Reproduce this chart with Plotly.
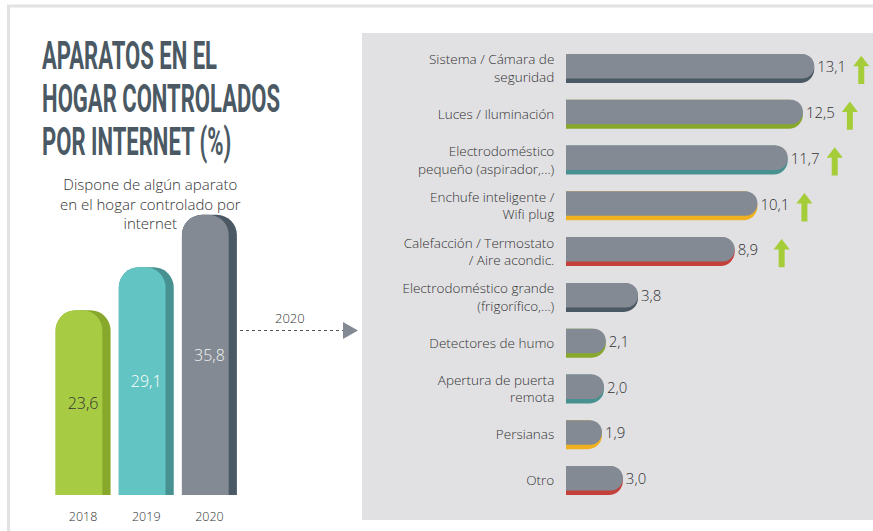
import json
import plotly.graph_objects as go

W, H = 873, 531

# ---------------- data ----------------
years = ["2018", "2019", "2020"]
year_values = [23.6, 29.1, 35.8]
year_light = ["#a7cc44", "#63c5c3", "#838a93"]
year_dark = ["#88a82c", "#479191", "#4a5963"]
year_text_colors = ["#333333", "#ffffff", "#f2f2f2"]

devices = [
    "Sistema / Cámara de<br>seguridad",
    "Luces / Iluminación",
    "Electrodoméstico<br>pequeño (aspirador,...)",
    "Enchufe inteligente /<br>Wifi plug",
    "Calefacción / Termostato<br>/ Aire acondic.",
    "Electrodoméstico grande<br>(frigorífico,...)",
    "Detectores de humo",
    "Apertura de puerta<br>remota",
    "Persianas",
    "Otro",
]
device_values = [13.1, 12.5, 11.7, 10.1, 8.9, 3.8, 2.1, 2.0, 1.9, 3.0]
device_rising = [True, True, True, True, True, False, False, False, False, False]
strip_colors = ["#4a5963", "#88a82c", "#479191", "#f0b020", "#c4403a",
                "#4a5963", "#88a82c", "#479191", "#f0b020", "#c4403a"]

title_lines = ["APARATOS EN EL", "HOGAR CONTROLADOS", "POR INTERNET (%)"]

FONT = "'Open Sans', Lato, sans-serif"
TITLE_FONT = "Roboto, sans-serif"
PX_PER_UNIT = 18.95          # horizontal scale of the right chart
ARROW_GAP = 47 / PX_PER_UNIT  # distance of the trend arrow after the bar end
ARROW_GREEN = "#a5cd39"


def px(x):
    return x / W


def py(y):
    return 1 - y / H


fig = go.Figure()

# ---------------- left chart: yearly bars ----------------
xi = list(range(len(years)))
fig.add_trace(go.Bar(x=xi, y=year_values, width=0.87, offset=-0.435,
                     marker=dict(color=year_dark, cornerradius=20, line=dict(width=0)),
                     xaxis="x", yaxis="y", hoverinfo="skip", showlegend=False))
fig.add_trace(go.Bar(x=xi, y=year_values, width=0.74, offset=-0.435,
                     marker=dict(color=year_light, cornerradius=20, line=dict(width=0)),
                     xaxis="x", yaxis="y", hoverinfo="skip", showlegend=False))
fig.add_trace(go.Bar(x=xi, y=year_values, width=0.87, offset=-0.435,
                     marker=dict(color="rgba(0,0,0,0)", line=dict(width=0)),
                     texttemplate="%{y:.1f}", textposition="inside",
                     insidetextanchor="middle", constraintext="none",
                     textfont=dict(family=FONT, size=16, color=year_text_colors, weight=300),
                     xaxis="x", yaxis="y", hoverinfo="skip", showlegend=False))

# ---------------- right chart: devices ----------------
yi = list(range(len(devices)))
fig.add_trace(go.Bar(x=device_values, y=yi, orientation="h", width=0.633, offset=-0.3165,
                     marker=dict(color=strip_colors, cornerradius=14, line=dict(width=0)),
                     xaxis="x2", yaxis="y2", hoverinfo="skip", showlegend=False))
fig.add_trace(go.Bar(x=device_values, y=yi, orientation="h", width=0.535, offset=-0.3165,
                     marker=dict(color="#838a93", cornerradius=12, line=dict(width=0)),
                     texttemplate="%{x:.1f}", textposition="outside", constraintext="none",
                     cliponaxis=False,
                     textfont=dict(family=FONT, size=15, color="#333333", weight=300),
                     xaxis="x2", yaxis="y2", hoverinfo="skip", showlegend=False))

# trend arrows (shaft + head) next to the rising items
shaft_x, shaft_y, head_x, head_y = [], [], [], []
for v, y, up in zip(device_values, yi, device_rising):
    if up:
        shaft_x += [v + ARROW_GAP, v + ARROW_GAP, None]
        shaft_y += [y + 0.34, y - 0.07, None]
        head_x.append(v + ARROW_GAP)
        head_y.append(y - 0.125)
fig.add_trace(go.Scatter(x=shaft_x, y=shaft_y, mode="lines",
                         line=dict(color=ARROW_GREEN, width=6), cliponaxis=False,
                         xaxis="x2", yaxis="y2", hoverinfo="skip", showlegend=False))
fig.add_trace(go.Scatter(x=head_x, y=head_y, mode="markers",
                         marker=dict(symbol="triangle-up", size=14, color=ARROW_GREEN,
                                     line=dict(width=0)),
                         cliponaxis=False,
                         xaxis="x2", yaxis="y2", hoverinfo="skip", showlegend=False))

annotations = []
# title
for i, line in enumerate(title_lines):
    annotations.append(dict(x=px(40), y=py(56 + 43 * i), xref="paper", yref="paper",
                            xanchor="left", yanchor="middle", showarrow=False, text="<b>" + line + "</b>",
                            font=dict(family=TITLE_FONT, size=38, color="#4a5963")))
# subtitle
annotations.append(dict(x=px(150), y=py(203), xref="paper", yref="paper",
                        xanchor="center", yanchor="middle", showarrow=False,
                        text="Dispone de algún aparato<br>en el hogar controlado por<br>internet",
                        align="center", font=dict(family=FONT, size=15, color="#333333", weight=300)))
# connector label
annotations.append(dict(x=px(290), y=py(318), xref="paper", yref="paper",
                        xanchor="center", yanchor="middle", showarrow=False, text="2020",
                        font=dict(family=FONT, size=13, color="#333333", weight=300)))

shapes = [
    # outer frame lines
    dict(type="line", xref="paper", yref="paper", x0=px(7), x1=1, y0=py(6), y1=py(6),
         line=dict(color="#e2e2e2", width=3), layer="below"),
    dict(type="line", xref="paper", yref="paper", x0=px(8.5), x1=px(8.5), y0=py(6), y1=0,
         line=dict(color="#e2e2e2", width=3), layer="below"),
    # right panel
    dict(type="rect", xref="paper", yref="paper", x0=px(362), x1=1, y0=py(520), y1=py(33),
         fillcolor="#e1e1e3", line=dict(width=0), layer="below"),
    # dotted connector
    dict(type="line", xref="paper", yref="paper", x0=px(240), x1=px(343), y0=py(330.5), y1=py(330.5),
         line=dict(color="#555555", width=1, dash="dot")),
    dict(type="path", xref="paper", yref="paper",
         path=f"M {px(343)} {py(322)} L {px(358)} {py(330.5)} L {px(343)} {py(339)} Z",
         fillcolor="#838a93", line=dict(width=0)),
]

fig.update_layout(
    width=W, height=H,
    margin=dict(l=0, r=0, t=0, b=0),
    paper_bgcolor="white", plot_bgcolor="rgba(0,0,0,0)",
    barmode="overlay",
    separators=",.",
    font=dict(family=FONT, color="#333333"),
    xaxis=dict(domain=[px(51.5), px(241)], range=[-0.5, 2.5], tickvals=xi, ticktext=years,
               showgrid=False, zeroline=False, showline=False,
               ticks="outside", ticklen=10, tickcolor="rgba(0,0,0,0)",
               tickfont=dict(family=FONT, size=12.5, color="#333333", weight=300), fixedrange=True),
    yaxis=dict(domain=[py(495), py(182)], range=[0, 40], visible=False, fixedrange=True),
    xaxis2=dict(domain=[px(566), 1], range=[0, 307 / PX_PER_UNIT], visible=False, anchor="y2",
                fixedrange=True),
    yaxis2=dict(domain=[py(503.4), py(45.6)], range=[9.5, -0.5], tickvals=yi, ticktext=devices,
                anchor="x2", showgrid=False, zeroline=False, showline=False,
                ticks="outside", ticklen=8, tickcolor="rgba(0,0,0,0)",
                tickfont=dict(family=FONT, size=13.5, color="#333333", weight=300), fixedrange=True),
    shapes=shapes,
    annotations=annotations,
)

post = (
    "document.body.style.margin='0px';"
    "document.body.style.padding='0px';"
    "var T = " + json.dumps(title_lines) + ";"
    "document.querySelectorAll('text.annotation-text').forEach(function(el){"
    "  if (T.indexOf(el.textContent.trim()) >= 0) {"
    "    el.style.transformBox = 'fill-box';"
    "    el.style.transformOrigin = '0% 50%';"
    "    el.style.transform = 'scaleX(0.58)';"
    "  }"
    "});"
)

fig.write_html("out.html", post_script=post, config={"displayModeBar": False})
